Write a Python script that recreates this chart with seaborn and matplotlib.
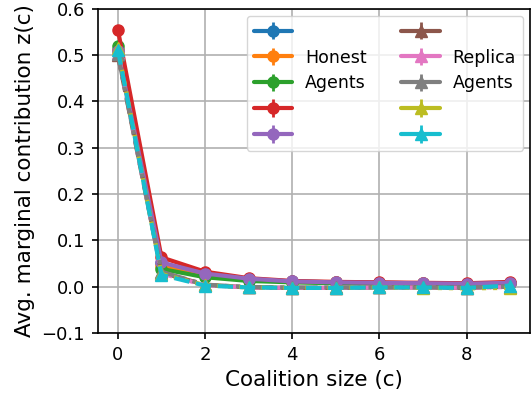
import matplotlib
matplotlib.use("Agg")
import matplotlib.pyplot as plt
from matplotlib.lines import Line2D
import seaborn as sns
import numpy as np

coalition = [0, 1, 2, 3, 4, 5, 6, 7, 8, 9]

# honest agents (solid, circles)
honest_1 = [0.512, 0.050, 0.027, 0.016, 0.011, 0.009, 0.008, 0.007, 0.006, 0.008]
honest_2 = [0.510, 0.045, 0.025, 0.015, 0.010, 0.009, 0.008, 0.007, 0.006, 0.007]
honest_3 = [0.520, 0.038, 0.020, 0.012, 0.009, 0.007, 0.006, 0.006, 0.005, 0.007]
honest_4 = [0.555, 0.063, 0.032, 0.018, 0.012, 0.010, 0.009, 0.008, 0.007, 0.010]
honest_5 = [0.508, 0.052, 0.028, 0.017, 0.011, 0.009, 0.008, 0.007, 0.006, 0.008]

# replica agents (dashed, triangles)
replica_1 = [0.500, 0.030, 0.004, -0.002, -0.003, -0.003, -0.002, -0.002, -0.003, 0.000]
replica_2 = [0.505, 0.028, 0.003, -0.002, -0.003, -0.003, -0.002, -0.002, -0.003, -0.001]
replica_3 = [0.502, 0.032, 0.004, -0.001, -0.002, -0.002, -0.002, -0.002, -0.002, 0.000]
replica_4 = [0.515, 0.027, 0.003, -0.002, -0.003, -0.003, -0.002, -0.003, -0.004, -0.003]
replica_5 = [0.512, 0.025, 0.002, -0.002, -0.003, -0.003, -0.002, -0.002, -0.003, 0.002]

honest_err = [0.006, 0.012, 0.004, 0.003, 0.002, 0.002, 0.002, 0.002, 0.002, 0.002]
replica_err = [0.006, 0.014, 0.004, 0.003, 0.002, 0.002, 0.002, 0.002, 0.002, 0.002]

legend_labels = [" ", "Honest", "Agents", " ", " ", " ", "Replica", "Agents", " ", " "]

sns.set_theme(style="whitegrid")
plt.rcParams["font.family"] = ["DejaVu Sans"]
plt.rcParams["text.color"] = "black"
plt.rcParams["axes.labelcolor"] = "black"
plt.rcParams["xtick.color"] = "black"
plt.rcParams["ytick.color"] = "black"
colors = sns.color_palette("tab10", 10)

fig, ax = plt.subplots(figsize=(5.31, 4.0), dpi=100)
fig.subplots_adjust(left=0.185, right=0.998, top=0.978, bottom=0.168)

honest = [honest_1, honest_2, honest_3, honest_4, honest_5]
replica = [replica_1, replica_2, replica_3, replica_4, replica_5]
dash_styles = ["--", ":", "-.", ":", "--"]

handles = []
for i, vals in enumerate(honest):
    h = ax.errorbar(coalition, vals, yerr=honest_err, color=colors[i], marker="o",
                    markersize=8, linewidth=3, linestyle="-", elinewidth=2)
    handles.append(h)
for i, vals in enumerate(replica):
    h = ax.errorbar(coalition, vals, yerr=replica_err, color=colors[i + 5], marker="^",
                    markersize=8, linewidth=3, linestyle=dash_styles[i], elinewidth=2)
    handles.append(h)

ax.set_xlim(-0.45, 9.45)
ax.set_ylim(-0.1, 0.6)
ax.set_xticks([0, 2, 4, 6, 8])
ax.set_yticks(np.arange(-0.1, 0.61, 0.1))
ax.tick_params(labelsize=13, length=4.5, width=1.2, pad=5, color="black",
               left=True, bottom=True)
ax.set_xlabel("Coalition size (c)", fontsize=15.5)
ax.set_ylabel("Avg. marginal contribution z(c)", fontsize=15.5, labelpad=5)
ax.grid(True, color="#b0b0b0", linewidth=1.2)
for s in ax.spines.values():
    s.set_color("black")
    s.set_linewidth(1.2)
ax.set_facecolor("white")

leg = ax.legend(handles, legend_labels, ncol=2, loc="upper right", fontsize=12.5,
                framealpha=0.8, labelspacing=0.45, handlelength=2.2,
                handletextpad=0.75, borderaxespad=0.4)
# legend keys are drawn solid in the original
for line in leg.findobj(Line2D):
    if line.get_linestyle() not in ("None", "-", ""):
        line.set_linestyle("-")

plt.savefig("out.png", dpi=100)
